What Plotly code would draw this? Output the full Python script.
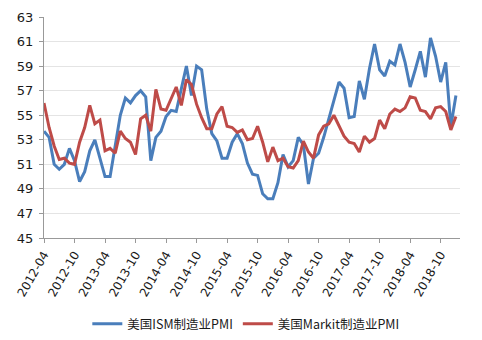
import plotly.graph_objects as go
import pandas as pd

months = pd.period_range("2012-04", "2019-01", freq="M").strftime("%Y-%m").tolist()

ism_pmi = [53.7, 53.2, 51.0, 50.6, 51.0, 52.3, 51.3, 49.6, 50.4, 52.1, 53.0, 51.4,
           50.0, 50.0, 52.5, 55.0, 56.4, 56.0, 56.6, 57.0, 56.5,
           51.3, 53.2, 53.7, 54.9, 55.4, 55.3, 57.1, 59.0, 56.6, 59.0, 58.7, 55.5,
           53.5, 52.9, 51.5, 51.5, 52.8, 53.5, 52.7, 51.1, 50.2, 50.1, 48.6, 48.2,
           48.2, 49.5, 51.8, 50.8, 51.3, 53.2, 52.6, 49.4, 51.5, 51.9, 53.2, 54.7,
           56.0, 57.7, 57.2, 54.8, 54.9, 57.8, 56.3, 58.8, 60.8, 58.7, 58.2, 59.4,
           59.1, 60.8, 59.3, 57.3, 58.7, 60.2, 58.1, 61.3, 59.8, 57.7, 59.3, 54.1, 56.6]

markit_pmi = [56.0, 54.0, 52.5, 51.4, 51.5, 51.1, 51.0, 52.8, 54.0,
              55.8, 54.3, 54.6, 52.1, 52.3, 51.9, 53.7, 53.1, 52.8, 51.8, 54.7, 55.0,
              53.7, 57.1, 55.5, 55.4, 56.4, 57.3, 55.8, 57.9, 57.5, 55.9, 54.8, 53.9,
              53.9, 55.1, 55.7, 54.1, 54.0, 53.6, 53.8, 53.0, 53.1, 54.1, 52.8, 51.2,
              52.4, 51.3, 51.5, 50.8, 50.7, 51.3, 52.9, 52.0, 51.5, 53.4, 54.1, 54.3,
              55.0, 54.2, 53.3, 52.8, 52.7, 52.0, 53.3, 52.8, 53.1, 54.6, 53.9, 55.1,
              55.5, 55.3, 55.6, 56.5, 56.4, 55.4, 55.3, 54.7, 55.6, 55.7, 55.3, 53.8, 54.9]

tick_labels = months[::6]
y_ticks = list(range(45, 64, 2))

fig = go.Figure()
fig.add_trace(go.Scatter(x=months, y=ism_pmi, mode="lines", name="美国ISM制造业PMI",
                         line=dict(color="#4a7ebb", width=3)))
fig.add_trace(go.Scatter(x=months, y=markit_pmi, mode="lines", name="美国Markit制造业PMI",
                         line=dict(color="#be4b48", width=3)))

fig.update_layout(
    width=482, height=340,
    margin=dict(l=44, r=22, t=17, b=102, autoexpand=False),
    paper_bgcolor="white", plot_bgcolor="white",
    font=dict(family="DejaVu Sans, sans-serif", color="#1a1a1a", size=12),
    showlegend=True,
    legend=dict(orientation="h", x=0.51, xanchor="center", xref="container",
                y=1 - 324 / 340, yanchor="middle", yref="container",
                font=dict(family="Noto Sans CJK SC", size=12.5, color="#1a1a1a"),
                itemwidth=30, tracegroupgap=0),
)
fig.update_xaxes(
    type="category", range=[0, 81.8], automargin=False,
    tickmode="array", tickvals=tick_labels, ticktext=tick_labels,
    tickangle=-60, ticks="outside", ticklen=4, tickcolor="#999",
    showline=True, linecolor="#999", linewidth=1, showgrid=False,
    tickfont=dict(family="DejaVu Sans", size=12, color="#1a1a1a"),
)
fig.update_yaxes(
    range=[45, 63], tickmode="array", tickvals=y_ticks, automargin=False,
    ticks="outside", ticklen=4, tickcolor="#999", ticklabelstandoff=3,
    showline=True, linecolor="#999", linewidth=1,
    showgrid=True, gridcolor="#e4e4e4", gridwidth=1, zeroline=False,
    tickfont=dict(family="DejaVu Sans", size=13, color="#1a1a1a"),
)

fig.write_html("out.html")
